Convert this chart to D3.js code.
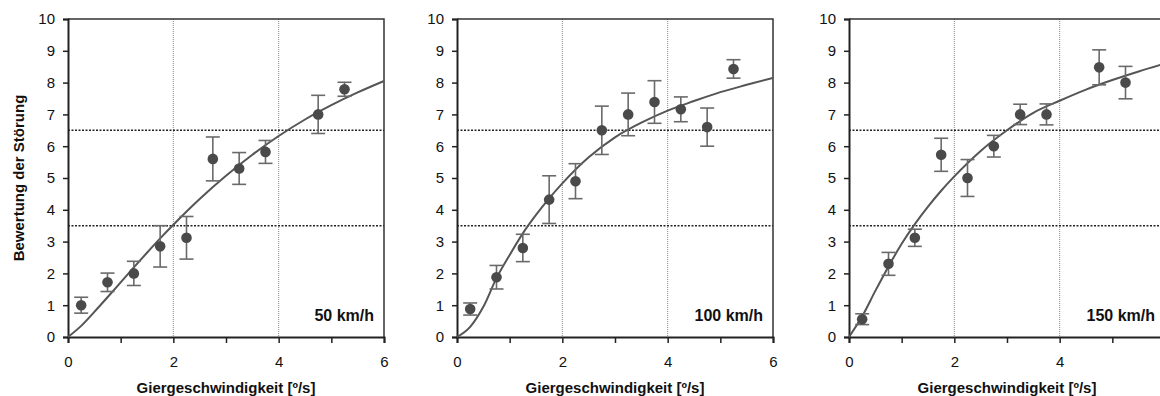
<!DOCTYPE html>
<html>
<head>
<meta charset="utf-8">
<script src="https://cdn.jsdelivr.net/npm/d3@7"></script>
<style>
  body { margin: 0; background: #fff; }
</style>
</head>
<body>
<svg width="1160" height="396"></svg>
<script>
// Messpunkte: Giergeschwindigkeit (x), Mittelwert und Fehlerbalken
var x50 = [0.25, 0.75, 1.25, 1.75, 2.25, 2.75, 3.25, 3.75, 4.75, 5.25];
var mean50 = [1.0, 1.72, 2.0, 2.85, 3.12, 5.6, 5.3, 5.82, 7.0, 7.79];
var err50 = [0.25, 0.29, 0.38, 0.65, 0.67, 0.69, 0.5, 0.36, 0.6, 0.22];

var x100 = [0.25, 0.75, 1.25, 1.75, 2.25, 2.75, 3.25, 3.75, 4.25, 4.75, 5.25];
var mean100 = [0.88, 1.88, 2.8, 4.32, 4.9, 6.5, 7.0, 7.39, 7.16, 6.6, 8.43];
var err100 = [0.19, 0.37, 0.43, 0.75, 0.55, 0.76, 0.67, 0.67, 0.39, 0.6, 0.29];

var x150 = [0.25, 0.75, 1.25, 1.75, 2.25, 2.75, 3.25, 3.75, 4.75, 5.25];
var mean150 = [0.56, 2.3, 3.12, 5.73, 5.0, 6.0, 7.0, 7.0, 8.48, 8.0];
var err150 = [0.17, 0.36, 0.27, 0.52, 0.58, 0.34, 0.32, 0.33, 0.55, 0.51];

// Ausgleichskurven
var fitX = [0, 0.25, 0.5, 0.75, 1, 1.25, 1.5, 1.75, 2, 2.5, 3, 3.5, 4, 4.5, 5, 5.5, 6];
var fit50 = [0, 0.35, 0.79, 1.25, 1.72, 2.19, 2.65, 3.1, 3.53, 4.34, 5.07, 5.73, 6.32, 6.84, 7.29, 7.69, 8.05];
var fit100 = [0, 0.32, 0.95, 1.85, 2.58, 3.26, 3.84, 4.36, 4.83, 5.65, 6.28, 6.74, 7.12, 7.42, 7.7, 7.93, 8.15];
var fit150 = [0, 0.65, 1.45, 2.22, 2.93, 3.55, 4.1, 4.6, 5.05, 5.85, 6.5, 7.05, 7.43, 7.78, 8.08, 8.35, 8.6];

var speeds = ["50 km/h", "100 km/h", "150 km/h"];
var xTicks = [0, 1, 2, 3, 4, 5, 6];
var xTickLabels = [0, 2, 4, 6];
var yTicks = [0, 1, 2, 3, 4, 5, 6, 7, 8, 9, 10];
var xGrid = [2, 4];
var yThresholds = [3.5, 6.5];

var svg = d3.select("svg");
var W = 1160;
var top_ = 19, bottom = 337, pw = 316;
var font = "Arial, 'Liberation Sans', sans-serif";

function panel(left, xs, means, errs, fit, label, yTitle) {
  var x = d3.scaleLinear().domain([0, 6]).range([left, left + pw]);
  var y = d3.scaleLinear().domain([0, 10]).range([bottom, top_]);
  var g = svg.append("g");

  // vertikale Hilfslinien
  g.selectAll(".vg").data(xGrid).enter().append("line")
    .attr("x1", d => x(d)).attr("x2", d => x(d))
    .attr("y1", top_).attr("y2", bottom)
    .attr("stroke", "#888").attr("stroke-width", 1)
    .attr("stroke-dasharray", "1,1");

  // Schwellen 3.5 und 6.5
  g.selectAll(".hg").data(yThresholds).enter().append("line")
    .attr("x1", left).attr("x2", left + pw)
    .attr("y1", d => y(d)).attr("y2", d => y(d))
    .attr("stroke", "#222").attr("stroke-width", 1.4)
    .attr("stroke-dasharray", "2,1.5");

  // Rahmen oben/rechts
  g.append("path")
    .attr("d", "M" + left + "," + top_ + "H" + (left + pw) + "V" + bottom)
    .attr("fill", "none").attr("stroke", "#333").attr("stroke-width", 1.5);

  // Achsen
  var yAxis = g.append("g")
    .attr("transform", "translate(" + left + ",0)")
    .call(d3.axisLeft(y).tickValues(yTicks).tickSize(5).tickPadding(8).tickFormat(d3.format("d")));
  // Beschriftung nur, wenn sie im Bild liegt (das dritte Diagramm ist rechts abgeschnitten)
  var xAxis = g.append("g")
    .attr("transform", "translate(0," + bottom + ")")
    .call(d3.axisBottom(x).tickValues(xTicks).tickSize(6).tickPadding(13)
      .tickFormat(d => (xTickLabels.indexOf(d) >= 0 && x(d) < W - 4) ? d : ""));
  [xAxis, yAxis].forEach(function (a) {
    a.select(".domain").attr("stroke", "#222").attr("stroke-width", 2);
    a.selectAll(".tick line").attr("stroke", "#222").attr("stroke-width", 1.5);
    a.selectAll("text").attr("font-family", font).style("font-size", "15px").attr("fill", "#111");
  });

  // Ausgleichskurve
  var line = d3.line()
    .x((d, i) => x(fitX[i]))
    .y(d => y(d))
    .curve(d3.curveMonotoneX);
  g.append("path").datum(fit)
    .attr("d", line)
    .attr("fill", "none").attr("stroke", "#555").attr("stroke-width", 2);

  // Fehlerbalken
  var eb = g.selectAll(".eb").data(means).enter().append("g");
  eb.append("line")
    .attr("x1", (d, i) => x(xs[i])).attr("x2", (d, i) => x(xs[i]))
    .attr("y1", (d, i) => y(d + errs[i])).attr("y2", (d, i) => y(d - errs[i]));
  eb.append("line")
    .attr("x1", (d, i) => x(xs[i]) - 7).attr("x2", (d, i) => x(xs[i]) + 7)
    .attr("y1", (d, i) => y(d + errs[i])).attr("y2", (d, i) => y(d + errs[i]));
  eb.append("line")
    .attr("x1", (d, i) => x(xs[i]) - 7).attr("x2", (d, i) => x(xs[i]) + 7)
    .attr("y1", (d, i) => y(d - errs[i])).attr("y2", (d, i) => y(d - errs[i]));
  eb.selectAll("line").attr("stroke", "#6a6a6a").attr("stroke-width", 1.6);

  // Mittelwerte
  g.selectAll(".pt").data(means).enter().append("circle")
    .attr("cx", (d, i) => x(xs[i]))
    .attr("cy", d => y(d))
    .attr("r", 5.3)
    .attr("fill", "#4a4a4a");

  // Geschwindigkeit
  g.append("text")
    .attr("x", left + pw - 10)
    .attr("y", 321)
    .attr("text-anchor", "end")
    .attr("font-weight", 700)
    .attr("font-family", font)
    .style("font-size", "16px")
    .attr("fill", "#111")
    .text(label);

  g.append("text")
    .attr("x", left + pw / 2)
    .attr("y", 393)
    .attr("text-anchor", "middle")
    .attr("font-weight", 700)
    .attr("font-family", font)
    .style("font-size", "15px")
    .attr("fill", "#111")
    .text("Giergeschwindigkeit [º/s]");

  if (yTitle) {
    g.append("text")
      .attr("transform", "translate(24," + (top_ + bottom) / 2 + ") rotate(-90)")
      .attr("text-anchor", "middle")
      .attr("font-weight", 700)
      .attr("font-family", font)
      .style("font-size", "15px")
      .attr("fill", "#111")
      .text("Bewertung der Störung");
  }
  return g;
}

panel(68, x50, mean50, err50, fit50, speeds[0], true);
panel(457, x100, mean100, err100, fit100, speeds[1], false);
panel(849, x150, mean150, err150, fit150, speeds[2], false);
</script>
</body>
</html>
